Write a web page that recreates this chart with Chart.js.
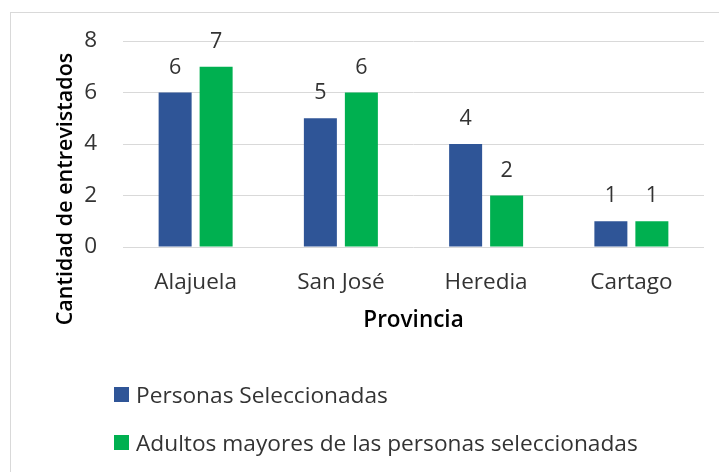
<!DOCTYPE html>
<html><head><meta charset="utf-8">
<script src="https://cdn.jsdelivr.net/npm/chart.js@4/dist/chart.umd.min.js"></script>
<style>
html,body{margin:0;padding:0;background:#fff;width:719px;height:472px;overflow:hidden}
#frame{position:absolute;left:10px;top:12px;width:760px;height:520px;border:1px solid #D9D9D9;box-sizing:border-box}
#wrap{position:absolute;left:0;top:0;width:719px;height:472px}
canvas{position:absolute;left:0;top:0}
</style></head><body>
<div id="frame"></div>
<div id="wrap"><canvas id="c" width="719" height="472"></canvas></div>
<script>
const categories = ['Alajuela', 'San José', 'Heredia', 'Cartago'];
const personasSeleccionadas = [6, 5, 4, 1];
const adultosMayores = [7, 6, 2, 1];
const seriesNames = ['Personas Seleccionadas', 'Adultos mayores de las personas seleccionadas'];
const seriesColors = ['#2F5597', '#00B050'];
const yTicks = [0, 2, 4, 6, 8];
const yTitle = 'Cantidad de entrevistados';
const xTitle = 'Provincia';

const FONT = "'Open Sans', sans-serif";
const TEXT = '#333333';

const dataLabels = {
  id: 'dataLabels',
  afterDatasetsDraw(chart) {
    const ctx = chart.ctx;
    ctx.save();
    ctx.font = '21.5px ' + FONT;
    ctx.fillStyle = TEXT;
    ctx.textAlign = 'center';
    ctx.textBaseline = 'alphabetic';
    chart.data.datasets.forEach((ds, i) => {
      chart.getDatasetMeta(i).data.forEach((bar, j) => {
        ctx.fillText(String(ds.data[j]), bar.x, bar.y - 19);
      });
    });
    ctx.restore();
  }
};

const customText = {
  id: 'customText',
  afterDraw(chart) {
    const ctx = chart.ctx;
    ctx.save();
    ctx.font = '600 21.5px ' + FONT;
    ctx.fillStyle = '#000';
    ctx.translate(72, 189);
    ctx.rotate(-Math.PI / 2);
    ctx.textAlign = 'center';
    ctx.textBaseline = 'alphabetic';
    ctx.fillText(yTitle, 0, 0);
    ctx.restore();
    ctx.save();
    ctx.font = '22.7px ' + FONT;
    ctx.textAlign = 'left';
    ctx.textBaseline = 'alphabetic';
    const baselines = [403, 451];
    chart.data.datasets.forEach((ds, i) => {
      const b = baselines[i];
      ctx.fillStyle = ds.backgroundColor;
      ctx.fillRect(114, b - 16, 15, 15);
      ctx.fillStyle = TEXT;
      ctx.fillText(ds.label, 136, b);
    });
    ctx.restore();
  }
};

new Chart(document.getElementById('c'), {
  type: 'bar',
  data: {
    labels: categories,
    datasets: [
      { label: seriesNames[0], data: personasSeleccionadas, backgroundColor: seriesColors[0],
        categoryPercentage: 0.5645, barPercentage: 0.805 },
      { label: seriesNames[1], data: adultosMayores, backgroundColor: seriesColors[1],
        categoryPercentage: 0.5645, barPercentage: 0.805 }
    ]
  },
  options: {
    responsive: false,
    animation: false,
    devicePixelRatio: 1,
    layout: { padding: { left: 0, right: 15, top: 41, bottom: 0 } },
    plugins: { legend: { display: false }, tooltip: { enabled: false } },
    scales: {
      x: {
        grid: { display: false, drawTicks: false },
        border: { display: false },
        ticks: { color: TEXT, font: { family: FONT, size: 22.5 }, padding: 22, maxRotation: 0 },
        title: { display: true, text: xTitle, color: '#000', font: { family: FONT, size: 22.5, weight: '600' },
                 padding: { top: 0, bottom: 138 } },
        afterFit(scale) { scale.height = 225; }
      },
      y: {
        min: 0, max: 8,
        afterBuildTicks(scale) { scale.ticks = yTicks.map(v => ({ value: v })); },
        grid: { color: '#D9D9D9', lineWidth: 1, drawTicks: false },
        border: { display: false },
        ticks: { color: TEXT, font: { family: FONT, size: 22.5 }, padding: 26 },
        afterFit(scale) { scale.width = 123; }
      }
    }
  },
  plugins: [dataLabels, customText]
});
</script>
</body></html>
